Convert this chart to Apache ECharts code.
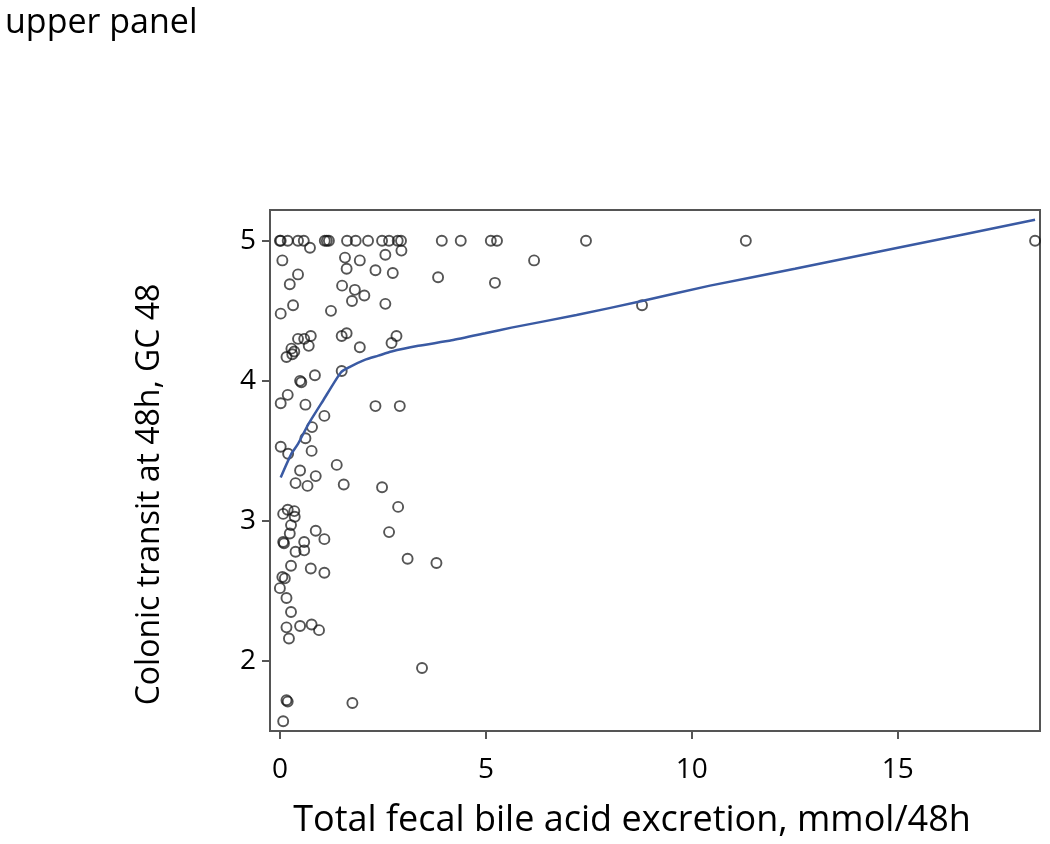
<!DOCTYPE html>
<html>
<head>
<meta charset="utf-8">
<script src="https://cdn.jsdelivr.net/npm/echarts@6/dist/echarts.min.js"></script>
<style>html,body{margin:0;padding:0;background:#fff}#c{width:1050px;height:844px}</style>
</head>
<body>
<div id="c"></div>
<script>
// Scatter points: [bile acid excretion, colonic transit GC48]
var topRow = [
  [0.0,5],[0.02,5],[0.19,5],[0.44,5],[0.58,5],[1.09,5],[1.14,5],[1.19,5],[1.63,5],[1.84,5],
  [2.14,5],[2.48,5],[2.65,5],[2.86,5],[2.94,5],[3.93,5],[4.39,5],[5.12,5],[5.27,5],[7.43,5],
  [11.31,5],[18.33,5]
];
var upperPoints = [
  [0.73,4.95],[0.06,4.86],[1.58,4.88],[1.62,4.80],[1.94,4.86],[2.56,4.90],[2.32,4.79],[2.74,4.77],[2.95,4.93],
  [0.44,4.76],[0.24,4.69],[1.51,4.68],[1.82,4.65],[2.05,4.61],[1.75,4.57],[2.56,4.55],[0.32,4.54],[0.02,4.48],[1.24,4.50],
  [3.84,4.74],[5.22,4.70],[6.17,4.86],[8.79,4.54]
];
var middlePoints = [
  [0.44,4.30],[0.59,4.30],[0.75,4.32],[0.70,4.25],[0.28,4.23],[0.35,4.21],[0.30,4.19],[0.16,4.17],[1.50,4.32],[1.62,4.34],
  [1.94,4.24],[2.71,4.27],[2.83,4.32],
  [0.49,4.00],[0.52,3.99],[0.85,4.04],[1.50,4.07],[0.19,3.90],[0.02,3.84],[0.62,3.83],[1.08,3.75],[0.78,3.67],[0.62,3.59],
  [0.02,3.53],[0.20,3.48],[0.77,3.50],[2.32,3.82],[2.91,3.82],
  [1.38,3.40],[0.49,3.36],[0.87,3.32],[0.38,3.27],[0.67,3.25],[1.55,3.26],[2.48,3.24],[2.87,3.10],[2.65,2.92],[3.10,2.73],
  [3.80,2.70],[3.45,1.95]
];
var lowerPoints = [
  [0.08,3.05],[0.19,3.08],[0.35,3.07],[0.36,3.03],[0.27,2.97],[0.24,2.91],[0.08,2.85],[0.10,2.84],[0.59,2.85],[0.87,2.93],
  [1.08,2.87],[0.59,2.79],[0.38,2.78],[0.27,2.68],[0.75,2.66],[1.08,2.63],
  [0.06,2.60],[0.12,2.59],[0.0,2.52],[0.16,2.45],[0.27,2.35],[0.16,2.24],[0.49,2.25],[0.77,2.26],[0.95,2.22],[0.22,2.16],
  [0.16,1.72],[0.19,1.71],[1.76,1.70],[0.08,1.57]
];
// Smoothed (loess-like) fit line
var fitLine = [
  [0.02,3.31],[0.28,3.48],[0.44,3.55],[0.69,3.69],[1.05,3.86],[1.48,4.06],[1.70,4.10],[2.06,4.15],[2.39,4.18],[2.71,4.21],
  [3.36,4.25],[4.17,4.29],[4.98,4.34],[5.62,4.38],[7.2,4.47],[8.79,4.57],[10.44,4.68],[12.5,4.80],[15,4.95],[18.33,5.15]
];
var xTicks = [0,5,10,15];
var yTicks = [2,3,4,5];

var allPoints = topRow.concat(upperPoints, middlePoints, lowerPoints);
var font = '"Open Sans", sans-serif';
var chart = echarts.init(document.getElementById('c'));
chart.setOption({
  backgroundColor: '#fff',
  animation: false,
  title: {
    text: 'upper panel', left: 0, top: 1,
    textStyle: {fontFamily: font, fontSize: 34, fontWeight: 'normal', color: '#000'}
  },
  grid: {left: 270, top: 210, right: 10, bottom: 113, show: true, borderColor: '#555', borderWidth: 2, containLabel: false},
  xAxis: {
    type: 'value', min: -0.24, max: 18.45,
    name: 'Total fecal bile acid excretion, mmol/48h', nameLocation: 'middle', nameGap: 72,
    nameTextStyle: {fontFamily: font, fontSize: 36, color: '#000', padding: [0, 46, 0, 0]},
    axisLine: {show: true, onZero: false, lineStyle: {color: '#555', width: 2}},
    axisTick: {show: true, length: 8, customValues: xTicks, lineStyle: {color: '#555', width: 2}},
    axisLabel: {customValues: xTicks, margin: 25, fontFamily: font, fontSize: 28, color: '#000'},
    splitLine: {show: false}
  },
  yAxis: {
    type: 'value', min: 1.5, max: 5.22,
    name: 'Colonic transit at 48h, GC 48', nameLocation: 'middle', nameGap: 104, nameRotate: 90,
    nameTextStyle: {fontFamily: font, fontSize: 32, color: '#000', padding: [0, 48, 0, 0]},
    axisLine: {show: true, onZero: false, lineStyle: {color: '#555', width: 2}},
    axisTick: {show: true, length: 8, customValues: yTicks, lineStyle: {color: '#555', width: 2}},
    axisLabel: {customValues: yTicks, margin: 14, fontFamily: font, fontSize: 28, color: '#000'},
    splitLine: {show: false}
  },
  series: [
    {
      type: 'scatter', data: allPoints, symbol: 'circle', symbolSize: 10,
      itemStyle: {color: 'rgba(0,0,0,0)', borderColor: 'rgba(20,20,20,0.9)', borderWidth: 1.9}
    },
    {
      type: 'line', data: fitLine, showSymbol: false, smooth: 0.2,
      lineStyle: {color: '#3a5aa3', width: 2.5}
    }
  ]
});
</script>
</body>
</html>
